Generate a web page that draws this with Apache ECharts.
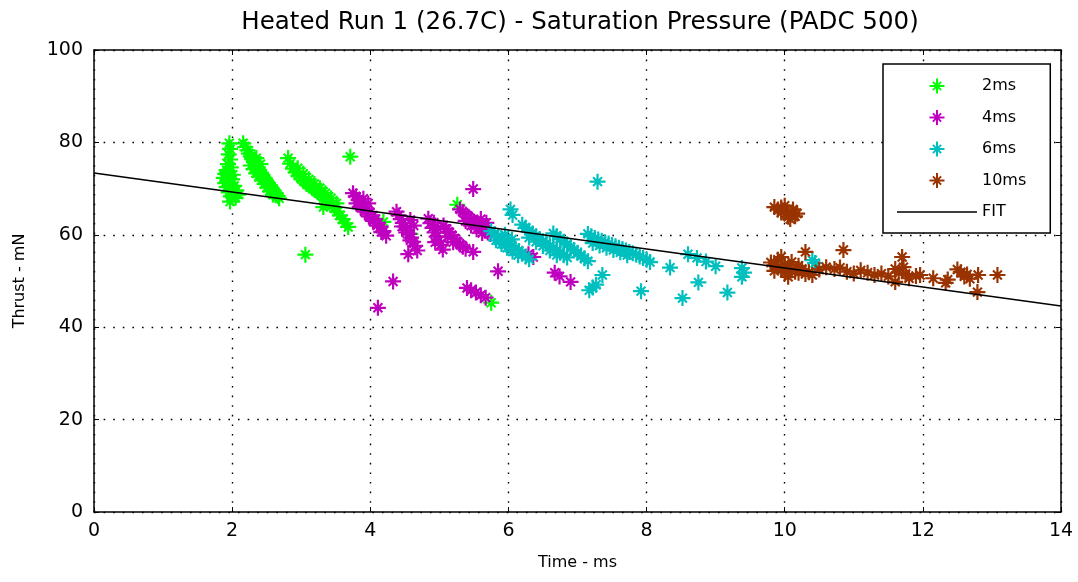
<!DOCTYPE html>
<html>
<head>
<meta charset="utf-8">
<script src="https://cdn.jsdelivr.net/npm/echarts@6/dist/echarts.min.js"></script>
<style>
html,body{margin:0;padding:0;background:#fff;}
#chart{width:1078px;height:582px;}
</style>
</head>
<body>
<div id="chart"></div>
<script>
// ---- data (time ms, thrust mN) ----
const ms2Points = [
[1.96,79.8],[1.97,78.6],[1.95,77.4],[1.97,76.3],[1.94,75.3],[1.98,74.6],[1.92,74.0],[1.90,73.2],[1.95,72.9],[1.88,72.3],[1.93,71.8],[2.00,72.0],[1.90,71.2],[1.97,70.9],[2.03,70.6],[1.92,70.3],[1.99,69.8],[2.06,69.6],[1.95,69.2],[2.02,68.9],[2.09,68.7],[1.98,68.3],[2.05,68.0],[1.97,67.2],[1.93,73.6],[2.01,73.0],
[2.16,79.8],[2.19,79.0],[2.22,78.3],[2.24,77.6],[2.27,77.0],[2.29,76.4],[2.32,75.8],[2.34,75.2],[2.37,74.6],[2.39,74.0],[2.42,73.4],[2.44,72.9],[2.47,72.3],[2.49,71.8],[2.52,71.2],[2.55,70.7],[2.57,70.1],[2.60,69.6],[2.63,69.0],[2.66,68.4],[2.68,67.9],[2.27,75.0],[2.31,74.2],[2.35,73.3],[2.39,72.6],[2.43,71.8],[2.47,71.0],[2.51,70.2],[2.55,69.4],[2.59,68.7],[2.35,76.6],[2.41,75.3],
[2.81,76.6],[2.84,75.4],[2.88,74.3],[2.92,73.5],[2.96,72.8],[3.00,72.2],[3.04,71.6],[3.08,71.0],[3.12,70.6],[3.16,70.1],[3.20,69.7],[3.24,69.2],[3.28,68.7],[3.32,68.2],[3.36,67.6],[3.40,67.0],[3.44,66.4],[3.48,65.8],[3.52,65.0],[3.56,64.2],[3.60,63.4],[3.64,62.5],[3.68,61.7],[2.95,74.4],[3.03,73.2],[3.11,72.0],[3.19,71.0],[3.27,70.1],[3.35,69.0],[3.43,67.9],[3.51,66.8],[3.32,66.0],
[3.71,76.9],[3.06,55.7],[5.26,66.5],[4.19,62.8],[4.58,60.2],[5.75,45.3]
];
const ms4Points = [
[3.75,69.0],[3.79,68.3],[3.83,67.6],[3.87,66.9],[3.91,66.2],[3.95,65.6],[3.99,64.9],[4.03,64.2],[4.07,63.4],[4.11,62.6],[4.15,61.8],[4.19,60.8],[4.23,59.8],[3.80,66.8],[3.86,66.0],[3.92,65.0],[3.98,64.0],[4.04,63.0],[4.10,62.0],[4.16,60.6],[3.90,67.8],[3.97,66.8],
[4.38,65.0],[4.41,64.2],[4.44,63.4],[4.47,62.6],[4.50,61.8],[4.53,61.0],[4.56,60.2],[4.59,59.4],[4.62,58.5],[4.65,57.6],[4.68,56.6],[4.46,61.8],[4.52,60.5],[4.58,58.8],[4.63,62.0],[4.58,63.2],[4.55,55.8],
[4.84,63.5],[4.87,62.5],[4.90,61.5],[4.93,60.5],[4.96,59.6],[4.99,58.7],[5.02,57.8],[5.05,56.8],[4.94,58.4],[4.92,62.6],[4.98,61.4],
[5.06,62.0],[5.10,61.3],[5.14,60.6],[5.18,59.9],[5.22,59.2],[5.26,58.5],[5.30,57.9],[5.34,57.4],[5.38,57.0],[5.12,59.6],[5.20,58.4],
[5.30,65.5],[5.34,64.9],[5.38,64.4],[5.42,63.9],[5.46,63.4],[5.50,62.9],[5.54,62.4],[5.58,61.9],[5.62,61.4],[5.66,60.9],[5.70,60.5],[5.74,60.2],[5.38,63.0],[5.46,62.0],[5.54,61.2],[5.62,60.4],[5.68,62.6],[5.60,63.4],
[5.49,69.9],[4.33,49.9],[4.11,44.2],[5.85,52.1],[5.49,56.3],[5.40,48.5],[5.46,48.0],[5.53,47.5],[5.60,46.9],[5.67,46.4],[6.36,55.2],[6.29,55.8],[6.67,51.8],[6.74,51.0],[6.90,49.8]
];
const ms6Points = [
[5.75,60.8],[5.80,60.2],[5.85,59.6],[5.90,59.1],[5.95,58.6],[6.00,58.1],[6.05,57.6],[6.10,57.1],[6.15,56.5],[6.20,55.9],[6.25,55.3],[6.30,54.7],[5.82,58.8],[5.90,58.0],[5.98,57.2],[6.06,56.4],[6.14,55.6],[5.95,60.0],[6.05,59.0],
[6.20,62.2],[6.25,61.5],[6.30,60.9],[6.35,60.3],[6.40,59.7],[6.45,59.1],[6.50,58.6],[6.55,58.1],[6.60,57.6],[6.65,57.1],[6.70,56.6],[6.75,56.1],[6.80,55.6],[6.85,55.1],[6.30,59.4],[6.40,58.5],[6.50,57.6],[6.60,56.6],[6.70,55.6],
[6.65,60.3],[6.70,59.7],[6.75,59.1],[6.80,58.5],[6.85,57.9],[6.90,57.3],[6.95,56.7],[7.00,56.1],[7.05,55.5],[7.10,54.9],[7.15,54.3],
[7.15,60.2],[7.20,59.7],[7.25,59.3],[7.30,59.0],[7.35,58.7],[7.40,58.4],[7.45,58.1],[7.50,57.8],[7.55,57.5],[7.60,57.2],[7.65,56.9],[7.70,56.6],[7.75,56.3],[7.80,56.0],[7.85,55.7],[7.90,55.3],[7.95,55.0],[8.00,54.6],[7.22,58.2],[7.32,57.7],[7.42,57.2],[7.52,56.7],[7.62,56.2],[7.72,55.6],
[7.29,71.5],[6.03,65.5],[6.06,64.3],[7.17,48.0],[7.22,48.6],[7.27,49.2],[7.36,51.3],[7.92,47.8],[8.05,54.1],[8.34,52.9],[8.52,46.3],[8.60,55.8],[8.75,49.7],[8.73,55.0],[8.86,54.2],[9.00,53.2],[9.17,47.5],[9.38,52.8],[9.41,51.8],[9.38,50.9],[10.40,54.5],[10.44,53.9]
];
const ms10Points = [
[9.85,66.0],[9.90,65.5],[9.95,65.9],[10.00,65.2],[10.05,64.8],[10.10,64.4],[10.15,64.0],[9.95,64.8],[10.05,63.9],[10.12,65.5],[10.00,66.3],[10.08,63.4],[10.18,64.6],
[9.80,54.0],[9.85,53.4],[9.90,53.0],[9.95,52.5],[10.00,53.6],[10.05,52.8],[10.10,52.3],[10.15,52.0],[10.20,51.8],[10.25,52.6],[10.30,51.5],[10.35,51.9],[10.40,51.3],[9.90,54.6],[9.95,55.2],[10.00,51.8],[10.10,54.1],[10.05,50.9],[9.85,52.2],[10.20,53.3],[10.30,56.3],[10.50,52.5],[10.60,53.0],
[10.85,56.7],[10.72,52.6],[10.80,52.9],[10.90,52.0],[11.00,51.6],[11.10,52.3],[11.20,51.8],[11.30,51.3],[11.40,51.6],[11.50,51.0],[11.60,52.6],[11.65,51.8],[11.72,53.0],[11.75,51.5],[11.80,50.6],[11.90,51.1],[11.70,55.2],[11.60,49.8],[11.96,51.3],[12.15,50.6],[12.33,49.6],[12.36,50.3],[12.50,52.5],[12.55,51.9],[12.60,51.0],[12.64,51.4],[12.68,50.5],[12.80,51.3],[12.79,47.6],[13.08,51.3]
];
const fitX = [0, 14];
const fitY = [73.4, 44.6];
const seriesNames = ['2ms', '4ms', '6ms', '10ms', 'FIT'];
const seriesColors = ['#00ff00', '#bf00bf', '#00bfbf', '#993300', '#000000'];
const titleText = 'Heated Run 1 (26.7C) - Saturation Pressure (PADC 500)';
const xName = 'Time - ms';
const yName = 'Thrust - mN';

// ---- styling ----
const FONT = 'DejaVu Sans';
const STAR = 'path://M-1.1,-8 L1.1,-8 L1.1,8 L-1.1,8 Z M-8,-1.1 L8,-1.1 L8,1.1 L-8,1.1 Z M-5.2,-3.7 L-3.7,-5.2 L5.2,3.7 L3.7,5.2 Z M3.7,-5.2 L5.2,-3.7 L-3.7,5.2 L-5.2,3.7 Z';
// legend icons padded to the 80x16 legend box so they sit like the reference
const STAR_LEG = 'path://M-40,0 L-40,0 Z M40,0 L40,0 Z M0,-8 L0,-8 Z M0,8 L0,8 Z M-1,-7.5 L1,-7.5 L1,7.5 L-1,7.5 Z M-7.5,-1 L7.5,-1 L7.5,1 L-7.5,1 Z M-4.8,-3.4 L-3.4,-4.8 L4.8,3.4 L3.4,4.8 Z M3.4,-4.8 L4.8,-3.4 L-3.4,4.8 L-4.8,3.4 Z';
const LINE_LEG = 'path://M0,-8 L0,-8 Z M0,8 L0,8 Z M-40,-0.7 L40,-0.7 L40,0.7 L-40,0.7 Z';

const pointSets = [ms2Points, ms4Points, ms6Points, ms10Points];
const scatterSeries = pointSets.map((pts, i) => ({
  name: seriesNames[i],
  type: 'scatter',
  data: pts,
  symbol: STAR,
  symbolSize: 16,
  itemStyle: { color: seriesColors[i], opacity: 1 },
  xAxisIndex: 0, yAxisIndex: 0,
  emphasis: { disabled: true }
}));

const gridLine = { show: true, lineStyle: { color: '#000', width: 1.4, type: [1.6, 8] } };
const axisLineStyle = { show: true, onZero: false, lineStyle: { color: '#000', width: 1.5 } };
const tickStyle = { show: true, inside: true, length: 5, lineStyle: { color: '#000' } };

const option = {
  animation: false,
  backgroundColor: '#fff',
  title: {
    text: titleText,
    left: 575, top: 5, textAlign: 'center',
    textStyle: { fontFamily: FONT, fontSize: 24.5, fontWeight: 'normal', color: '#000' }
  },
  grid: { left: 94, right: 17, top: 50, bottom: 70, containLabel: false },
  legend: {
    orient: 'vertical',
    left: 883, top: 64,
    padding: [14, 24, 13, 14],
    itemWidth: 80, itemHeight: 16, itemGap: 15.5,
    backgroundColor: '#fff',
    borderColor: '#000', borderWidth: 1.5, borderRadius: 0,
    textStyle: { fontFamily: FONT, fontSize: 16, color: '#000' },
    data: [
      { name: '2ms', icon: STAR_LEG },
      { name: '4ms', icon: STAR_LEG },
      { name: '6ms', icon: STAR_LEG },
      { name: '10ms', icon: STAR_LEG },
      { name: 'FIT', icon: LINE_LEG, itemStyle: { color: '#000' } }
    ]
  },
  xAxis: [
    {
      type: 'value', min: 0, max: 14, interval: 2, position: 'bottom',
      name: xName, nameLocation: 'middle', nameGap: 43,
      nameTextStyle: { fontFamily: FONT, fontSize: 16, color: '#000' },
      axisLine: axisLineStyle,
      axisTick: tickStyle,
      axisLabel: { fontFamily: FONT, fontSize: 19, color: '#000', margin: 10 },
      splitLine: gridLine
    },
    {
      type: 'value', min: 0, max: 14, interval: 2, position: 'top',
      axisLine: axisLineStyle,
      axisTick: tickStyle,
      axisLabel: { show: false }, splitLine: { show: false }
    }
  ],
  yAxis: [
    {
      type: 'value', min: 0, max: 100, interval: 20, position: 'left',
      name: yName, nameLocation: 'middle', nameGap: 66, nameRotate: 90,
      nameTextStyle: { fontFamily: FONT, fontSize: 16, color: '#000' },
      axisLine: axisLineStyle,
      axisTick: tickStyle,
      axisLabel: { fontFamily: FONT, fontSize: 19, color: '#000', margin: 11 },
      splitLine: gridLine
    },
    {
      type: 'value', min: 0, max: 100, interval: 20, position: 'right',
      axisLine: axisLineStyle,
      axisTick: tickStyle,
      axisLabel: { show: false }, splitLine: { show: false }
    }
  ],
  series: scatterSeries.concat([{
    name: 'FIT',
    type: 'line',
    data: fitX.map((x, i) => [x, fitY[i]]),
    symbol: 'none',
    lineStyle: { color: '#000', width: 1.5 },
    itemStyle: { color: '#000' },
    xAxisIndex: 0, yAxisIndex: 0,
    z: 5,
    emphasis: { disabled: true }
  }])
};

const chart = echarts.init(document.getElementById('chart'), null, { renderer: 'canvas' });
chart.setOption(option);
</script>
</body>
</html>
